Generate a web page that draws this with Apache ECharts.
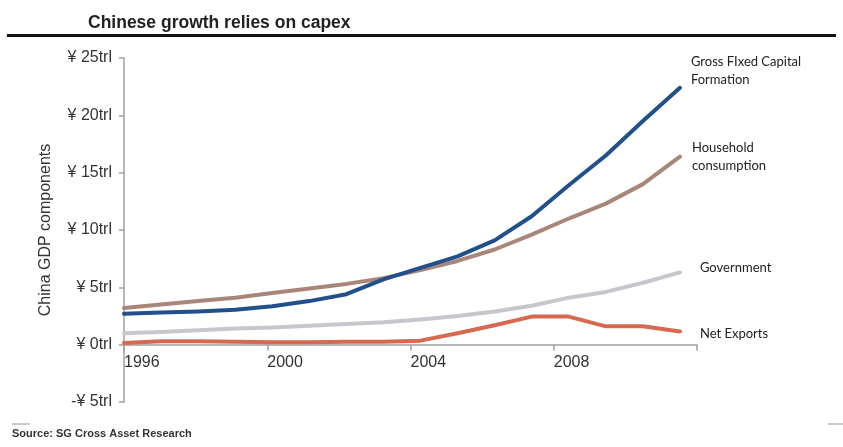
<!DOCTYPE html>
<html>
<head>
<meta charset="utf-8">
<script src="https://cdn.jsdelivr.net/npm/echarts@6/dist/echarts.min.js"></script>
<style>
html,body{margin:0;padding:0;background:#fff;}
#chart{width:843px;height:447px;}
</style>
</head>
<body>
<div id="chart"></div>
<script>
// ---- data ----
var years = [1996,1997,1998,1999,2000,2001,2002,2003,2004,2005,2006,2007,2008,2009,2010,2011];
var gfcf = [2.7,2.8,2.9,3.05,3.35,3.8,4.4,5.7,6.7,7.7,9.1,11.2,13.9,16.5,19.5,22.4];
var household = [3.2,3.5,3.8,4.1,4.5,4.9,5.3,5.8,6.5,7.3,8.3,9.6,11.0,12.3,14.0,16.4];
var government = [1.0,1.1,1.25,1.4,1.5,1.65,1.8,1.95,2.2,2.5,2.9,3.4,4.1,4.6,5.4,6.3];
var netExports = [0.15,0.3,0.3,0.25,0.2,0.2,0.25,0.25,0.35,1.0,1.7,2.45,2.45,1.6,1.6,1.15];
var seriesNames = ['Gross FIxed Capital\nFormation','Household\nconsumption','Government','Net Exports'];
var yTicks = {min:-5, max:25, step:5};
var xTicks = {min:1996, max:2012, step:4};

function pairs(vals){ return vals.map(function(v,i){ return [years[i], v]; }); }

var W = 843, H = 447;
var gridTop = 58, gridBottom = 45;
var gridH = H - gridTop - gridBottom;
// move the visible x axis up to the zero line of the y axis
var zeroOffset = -gridH * (0 - yTicks.min) / (yTicks.max - yTicks.min);

var chart = echarts.init(document.getElementById('chart'));
var labelFont = 'Liberation Sans, Arial, sans-serif';
var annFont = 'Lato, "Open Sans", sans-serif';

function mkSeries(name, vals, color, offset){
  return {
    name: name, type:'line', xAxisIndex:1, data: pairs(vals),
    symbol:'none', smooth:false,
    lineStyle:{color:color, width:4, cap:'round', join:'round'},
    itemStyle:{color:color},
    endLabel:{show:true, formatter:name, color:'#222', fontFamily:annFont, fontSize:13,
      lineHeight:18, align:'left', offset:offset, distance:6},
    emphasis:{disabled:true}
  };
}

chart.setOption({
  animation:false,
  backgroundColor:'#fff',
  title:{text:'Chinese growth relies on capex', left:83, top:9,
    textStyle:{fontFamily:labelFont, fontSize:17.5, fontWeight:'bold', color:'#222'}},
  grid:{left:124, top:gridTop, right:146, bottom:gridBottom, containLabel:false},
  xAxis:[{
    type:'value', min:xTicks.min, max:xTicks.max, interval:xTicks.step,
    position:'bottom', offset:zeroOffset,
    axisLine:{show:true, onZero:false, lineStyle:{color:'#a0a0a0', width:1.5}},
    axisTick:{show:true, length:6, lineStyle:{color:'#a0a0a0', width:1.5}},
    splitLine:{show:false},
    axisLabel:{formatter:function(v){ return v===xTicks.max ? '' : String(v); },
      align:'left', margin:10, fontFamily:labelFont, fontSize:16, color:'#333', showMaxLabel:true}
  },{
    type:'value', min:1996, max:2011.46, show:false, axisLine:{onZero:false}
  }],
  yAxis:{
    type:'value', min:yTicks.min, max:yTicks.max, interval:yTicks.step,
    name:'China GDP components', nameLocation:'middle', nameGap:70, nameRotate:90,
    nameTextStyle:{fontFamily:labelFont, fontSize:16, color:'#333'},
    axisLine:{show:true, onZero:false, lineStyle:{color:'#a0a0a0', width:1.5}},
    axisTick:{show:true, length:5, lineStyle:{color:'#a0a0a0', width:1.5}},
    splitLine:{show:false},
    axisLabel:{formatter:function(v){ return (v<0?'-':'')+'¥ '+Math.abs(v)+'trl'; },
      margin:12, fontFamily:labelFont, fontSize:16, color:'#333'}
  },
  series:[
    mkSeries(seriesNames[1], household, '#a8867a', [6,0]),
    mkSeries(seriesNames[2], government, '#c6c7cd', [14,-5]),
    mkSeries(seriesNames[3], netExports, '#d6694f', [14,2]),
    mkSeries(seriesNames[0], gfcf, '#21508b', [5,-17])
  ],
  graphic:[
    {type:'rect', shape:{x:7, y:34, width:829, height:3}, style:{fill:'#111'}},
    {type:'line', shape:{x1:12, y1:424, x2:30, y2:424}, style:{stroke:'#999', lineWidth:1}},
    {type:'line', shape:{x1:828, y1:424, x2:843, y2:424}, style:{stroke:'#999', lineWidth:1}},
    {type:'text', left:12, top:428, style:{text:'Source: SG Cross Asset Research',
      fontFamily:labelFont, fontSize:11, fontWeight:'bold', fill:'#333'}}
  ]
});
</script>
</body>
</html>
